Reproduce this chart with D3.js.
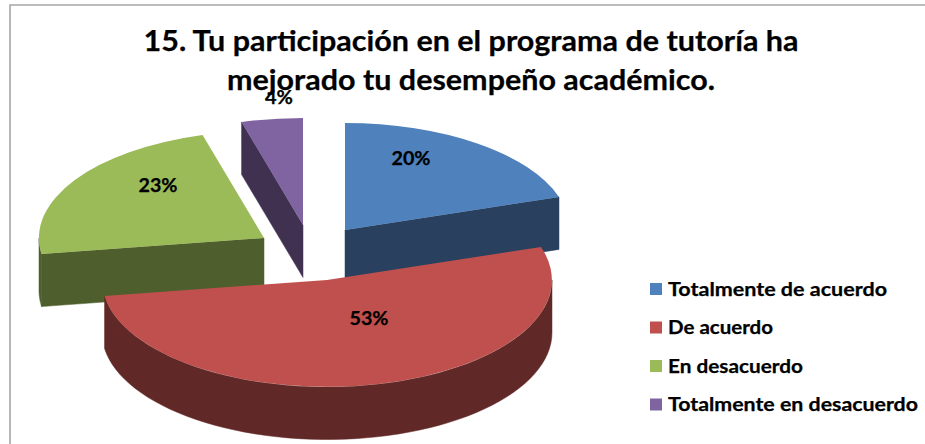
<!DOCTYPE html>
<html>
<head>
<meta charset="utf-8">
<script src="https://cdn.jsdelivr.net/npm/d3@7"></script>
<style>
html,body{margin:0;padding:0;background:#fff;}
svg{display:block;}
text{font-family:Lato,"Open Sans",sans-serif;font-weight:700;fill:#000;stroke:#000;stroke-width:.25px;}
</style>
</head>
<body>
<svg id="chart" width="925" height="444"></svg>
<script>
const titleLines = ["15. Tu participación en el programa de tutoría ha", "mejorado tu desempeño académico."];
const categories = ["Totalmente de acuerdo", "De acuerdo", "En desacuerdo", "Totalmente en desacuerdo"];
const values = [20, 52.6, 23, 4.4];
const valueLabels = ["20%", "53%", "23%", "4%"];
const topColors = ["#4f81bd", "#c0504d", "#9bbb59", "#8064a2"];
const sideColors = ["#29415f", "#602827", "#4f5e2d", "#403151"];

// Layout
const W = 925, H = 444;
const rx = 225, ry = 107, depth = 52.5;
const centres = [[345,230],[327,280],[264,238],[303,225]];
const labelPos = [[411,165],[369,325],[158,192],[279,104]];
const labelWidths = [39,39,39,28];
const legendWidths = [219,105,135,250];
const titleWidths = [655,488];
const drawOrder = [3,2,0,1];

const svg = d3.select("#chart");
svg.append("path").attr("d",`M10,${H}V5H${W}`)
  .attr("fill","none").attr("stroke","#a6a6a6").attr("stroke-width",1.6);

const pie = d3.pie().sort(null).value(d => d);
const arcs = pie(values);
const arc = d3.arc().innerRadius(0).outerRadius(1);
const line = d3.line();
const color = d3.scaleOrdinal().domain(categories).range(topColors);
const side = d3.scaleOrdinal().domain(categories).range(sideColors);

const pt = (c,a,dy=0) => [c[0]+rx*Math.sin(a), c[1]-ry*Math.cos(a)+dy];

drawOrder.forEach(i => {
  const d = arcs[i], c = centres[i], g = svg.append("g");
  const dark = side(categories[i]);
  const wall = (a) => {
    g.append("path").attr("fill",dark).attr("stroke",dark).attr("stroke-width",.5)
     .attr("d", line([c, pt(c,a), pt(c,a,depth), [c[0],c[1]+depth]])+"Z");
  };
  if (Math.sin(d.startAngle) < -1e-6) wall(d.startAngle);
  if (Math.sin(d.endAngle) > 1e-6) wall(d.endAngle);
  const a0 = Math.max(d.startAngle, Math.PI/2), a1 = Math.min(d.endAngle, 3*Math.PI/2);
  if (a1 > a0) {
    const as = d3.range(0,61).map(k => a0+(a1-a0)*k/60);
    const pts = as.map(a => pt(c,a)).concat(as.slice().reverse().map(a => pt(c,a,depth)));
    g.append("path").attr("fill",dark).attr("stroke",dark).attr("stroke-width",.5)
      .attr("d", line(pts)+"Z");
  }
  g.append("path").attr("transform",`translate(${c[0]},${c[1]}) scale(${rx},${ry})`)
    .attr("fill",color(categories[i])).attr("d",arc(d));
});

// Title
svg.selectAll("text.title").data(titleLines).join("text").attr("class","title")
  .attr("x",471).attr("y",(d,i)=>[50.5,90][i]).attr("text-anchor","middle")
  .attr("font-size",29).attr("textLength",(d,i)=>titleWidths[i]).attr("lengthAdjust","spacingAndGlyphs").text(d=>d);

// Data labels
svg.selectAll("text.lab").data(valueLabels).join("text").attr("class","lab")
  .attr("x",(d,i)=>labelPos[i][0]).attr("y",(d,i)=>labelPos[i][1])
  .attr("text-anchor","middle").attr("font-size",18)
  .attr("textLength",(d,i)=>labelWidths[i]).attr("lengthAdjust","spacingAndGlyphs").text(d=>d);

// Legend
const ly = d3.scalePoint().domain(categories).range([289,404.5]);
const leg = svg.selectAll("g.leg").data(categories).join("g").attr("class","leg")
  .attr("transform",d=>`translate(650,${ly(d)})`);
leg.append("rect").attr("y",-6).attr("width",12).attr("height",12).attr("fill",d=>color(d));
leg.append("text").attr("x",18).attr("y",6.5).attr("font-size",18)
  .attr("textLength",(d,i)=>legendWidths[i]).attr("lengthAdjust","spacingAndGlyphs").text(d=>d);
</script>
</body>
</html>
